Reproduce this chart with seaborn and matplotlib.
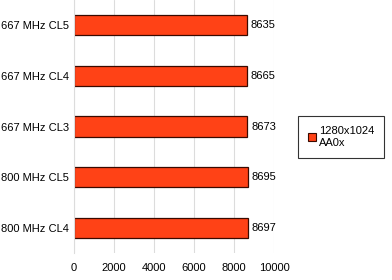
import pandas as pd
import matplotlib
matplotlib.use("Agg")
import matplotlib.pyplot as plt
import seaborn as sns
from matplotlib.patches import Patch

configs = ["667 MHz CL5", "667 MHz CL4", "667 MHz CL3", "800 MHz CL5", "800 MHz CL4"]
scores = [8635, 8665, 8673, 8695, 8697]
series_name = "1280x1024\nAA0x"
xticks = [0, 2000, 4000, 6000, 8000, 10000]

df = pd.DataFrame({"config": configs, "score": scores})

sns.set_style("white")
plt.rcParams["font.family"] = ["Liberation Sans", "DejaVu Sans"]
plt.rcParams["font.size"] = 8
plt.rcParams["text.color"] = "black"
plt.rcParams["xtick.labelcolor"] = "black"
plt.rcParams["ytick.labelcolor"] = "black"

fig = plt.figure(figsize=(3.92, 2.8), dpi=100)
ax = fig.add_axes([0.189, 0.096, 0.51, 0.904])

bar_col = "#FF4216"
sns.barplot(data=df, x="score", y="config", orient="h", color=bar_col,
            edgecolor="#3a0a00", linewidth=0.9, width=0.4, saturation=1, ax=ax)

for i, v in enumerate(scores):
    ax.text(v + 180, i, str(v), va="center", ha="left", fontsize=8, color="black")

ax.set_xlim(0, 10000)
ax.set_ylim(4.5, -0.5)
ax.set_xticks(xticks)
ax.set_xlabel("")
ax.set_ylabel("")
ax.xaxis.grid(True, color="#dcdcdc", linewidth=0.8)
ax.set_axisbelow(True)
for s in ax.spines.values():
    s.set_visible(False)
ax.spines["left"].set_visible(True)
ax.spines["left"].set_color("#dcdcdc")
ax.set_yticks([i + 0.5 for i in range(-1, 5)], minor=True)
ax.tick_params(axis="y", which="major", length=0, pad=3.5, labelsize=8, labelcolor="black")
ax.tick_params(axis="y", which="minor", length=3, color="#dcdcdc")
ax.tick_params(axis="x", length=3, color="#dcdcdc", pad=4, labelcolor="black")

handle = Patch(facecolor=bar_col, edgecolor="#3a0a00", linewidth=0.8)
leg = fig.legend([handle], [series_name], loc="center left",
                 bbox_to_anchor=(0.76, 0.51), frameon=True, fancybox=False,
                 handlelength=0.7, handleheight=0.7, handletextpad=0.3,
                 borderpad=0.9, borderaxespad=0, fontsize=8, labelcolor="black")
leg.get_frame().set_edgecolor("black")
leg.get_frame().set_linewidth(0.8)

fig.savefig("out.png", dpi=100)
